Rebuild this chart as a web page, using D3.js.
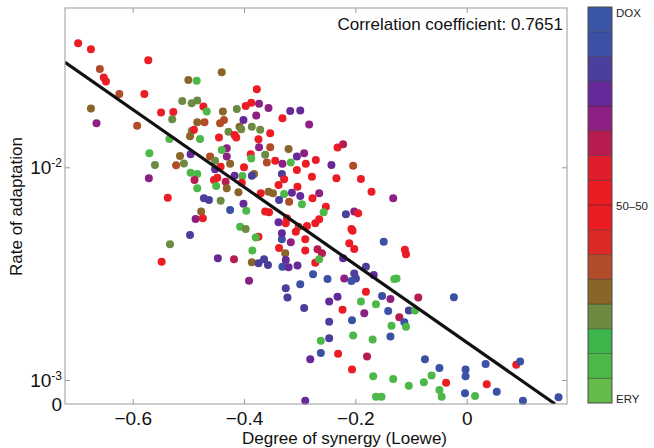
<!DOCTYPE html>
<html><head><meta charset="utf-8">
<script src="https://cdn.jsdelivr.net/npm/d3@7"></script>
<style>
body{margin:0;background:#fff}
svg{display:block}
text{font-family:"Liberation Sans",Arial,Helvetica,sans-serif}
</style>
</head><body>
<svg id="c" width="654" height="448"></svg>
<script>
// ---- data (degree of synergy, rate of adaptation, colour index on ERY→DOX bar) ----
const synergy = [
-0.698,-0.675,-0.572,-0.659,-0.652,-0.648,-0.440,-0.500,-0.485,-0.624,
-0.579,-0.675,-0.665,-0.592,-0.511,-0.494,-0.484,-0.473,-0.467,-0.549,
-0.527,-0.529,-0.438,-0.436,-0.443,-0.484,-0.471,-0.494,-0.490,-0.497,
-0.479,-0.534,-0.445,-0.428,-0.570,-0.560,-0.571,-0.515,-0.496,-0.522,
-0.508,-0.461,-0.496,-0.484,-0.489,-0.484,-0.431,-0.431,-0.440,-0.452,
-0.452,-0.442,-0.454,-0.448,-0.433,-0.450,-0.431,-0.537,-0.472,-0.463,
-0.442,-0.425,-0.477,-0.487,-0.474,
-0.377,-0.413,-0.397,-0.387,-0.373,-0.356,-0.378,-0.401,-0.331,-0.317,
-0.299,-0.283,-0.408,-0.405,-0.386,-0.371,-0.417,-0.414,-0.374,-0.353,
-0.373,-0.353,-0.320,-0.305,-0.292,-0.271,-0.388,-0.387,-0.362,-0.359,
-0.344,-0.331,-0.316,-0.289,-0.243,-0.204,-0.232,-0.222,-0.278,-0.234,
-0.190,-0.171,-0.132,-0.332,-0.305,-0.400,-0.417,-0.403,-0.382,-0.386,
-0.328,-0.338,-0.304,-0.314,-0.356,-0.348,-0.370,-0.328,-0.299,-0.277,
-0.265,-0.337,-0.319,-0.296,-0.410,-0.401,-0.396,-0.362,-0.355,-0.253,
-0.257,-0.217,-0.202,-0.195,-0.338,-0.323,-0.325,-0.265,-0.272,-0.287,
-0.407,-0.397,-0.302,-0.207,-0.404,-0.425,
-0.374,-0.379,-0.385,-0.386,-0.418,-0.391,-0.374,-0.364,-0.357,-0.332,
-0.332,-0.316,-0.307,-0.290,-0.337,-0.326,-0.290,-0.268,-0.260,-0.272,
-0.265,-0.325,-0.331,-0.320,-0.304,-0.276,-0.250,-0.299,-0.325,-0.322,
-0.292,-0.247,-0.232,-0.223,-0.247,-0.247,-0.262,-0.262,-0.231,-0.281,
-0.290,-0.206,-0.204,-0.206,-0.184,-0.181,-0.190,-0.163,-0.152,-0.137,
-0.141,-0.135,-0.137,-0.169,-0.179,-0.168,-0.132,-0.163,-0.153,-0.205,
-0.211,-0.202,-0.149,-0.222,-0.181,-0.167,-0.202,-0.199,-0.207,-0.220,
-0.130,-0.111,-0.109,-0.126,-0.087,-0.023,-0.104,-0.093,-0.121,-0.112,
-0.109,-0.075,-0.049,-0.063,-0.077,-0.104,-0.037,-0.049,-0.045,-0.002,
-0.002,0.034,0.036,-0.003,0.015,0.054,0.089,0.096,0.101,0.165,
-0.497,-0.533,-0.548,-0.447
];
const rate = [
0.0383,0.0359,0.0319,0.0290,0.0264,0.0253,0.0280,0.0257,0.0255,0.0221,
0.0221,0.0189,0.0161,0.0157,0.0205,0.0200,0.0206,0.0193,0.0183,0.0181,
0.0182,0.0168,0.0183,0.0167,0.0161,0.0163,0.0163,0.0148,0.0150,0.0140,
0.0136,0.0136,0.0138,0.0147,0.01165,0.01026,0.00888,0.0113,0.01153,0.01023,
0.01041,0.01123,0.00943,0.0093,0.00872,0.00797,0.0123,0.01123,0.01207,0.01072,
0.00979,0.01007,0.00872,0.00893,0.00856,0.00817,0.00797,0.0072,0.00715,0.00702,
0.00697,0.0063,0.00619,0.00572,0.00576,
0.0233,0.0188,0.0194,0.0201,0.0199,0.0190,0.0175,0.0167,0.0170,0.0184,
0.0185,0.0159,0.0155,0.0151,0.0155,0.0150,0.0142,0.0138,0.01355,0.01446,
0.01243,0.01243,0.0122,0.01123,0.01165,0.01083,0.01153,0.0110,0.01144,0.01052,
0.01072,0.01038,0.01052,0.01038,0.01026,0.01018,0.01238,0.01284,0.00903,0.00888,
0.00881,0.00768,0.00715,0.0093,0.00971,0.0100,0.00913,0.0091,0.0093,0.00913,
0.00878,0.00826,0.00811,0.0076,0.00768,0.00755,0.00755,0.00749,0.00733,0.00715,
0.00755,0.00702,0.00689,0.0067,0.00763,0.00673,0.00624,0.00619,0.00615,0.00653,
0.00615,0.00601,0.00619,0.00608,0.00551,0.00576,0.00545,0.0057,0.00545,0.0053,
0.00526,0.00513,0.00526,0.00513,0.00846,0.01038,
0.00472,0.00467,0.00406,0.00358,0.0037,0.00293,0.00354,0.0037,0.00347,0.00459,
0.0049,0.00444,0.00498,0.00459,0.00417,0.00394,0.00406,0.00412,0.00394,0.00356,
0.0037,0.00367,0.00341,0.00339,0.00345,0.00314,0.00298,0.00282,0.0027,0.00244,
0.00218,0.00234,0.00246,0.00214,0.00188,0.00157,0.00153,0.00134,0.00133,0.00125,
0.000798,0.00191,0.00162,0.00112,0.00206,0.0026,0.00234,0.00227,0.00248,0.0024,
0.00211,0.0018,0.0016,0.00155,0.00129,0.00104,0.00101,0.000835,0.000835,0.00503,
0.0044,0.00413,0.00447,0.00374,0.00341,0.00312,0.00317,0.0030,0.00292,0.0030,
0.00298,0.00409,0.0039,0.0030,0.00244,0.00245,0.00212,0.00212,0.00197,0.00187,
0.00178,0.00125,0.00114,0.00105,0.000975,0.00094,0.000971,0.000897,0.000835,0.00112,
0.00104,0.00119,0.000955,0.000866,0.000841,0.000881,0.00118,0.00122,0.000798,0.000829,
0.00481,0.00435,0.0036,0.00374
];
const mix = [
7,7,7,5,7,7,4,4,1,5,
7,4,11,5,3,3,3,7,1,7,
7,3,4,5,5,4,5,3,7,4,
1,1,7,3,1,3,11,4,12,5,
3,5,1,1,10,1,11,11,1,3,
12,7,7,7,10,1,4,7,13,13,
3,14,4,11,7,
7,3,7,7,11,11,11,12,7,12,
12,11,4,3,3,3,7,7,7,7,
11,5,4,12,11,7,7,1,3,5,
7,11,1,7,12,5,7,10,7,7,
7,7,11,13,7,7,12,1,4,13,
7,7,7,12,4,4,7,1,12,7,
11,13,5,1,4,12,1,7,7,7,
1,13,11,7,12,7,7,7,7,7,
1,3,5,7,7,4,
7,1,1,4,10,11,13,13,13,14,
12,11,7,7,7,4,7,10,10,7,
1,12,14,12,12,14,14,14,13,13,
13,12,12,7,13,13,1,14,7,12,
12,14,1,7,11,7,1,1,14,11,
14,1,14,1,10,1,1,1,1,7,
7,7,14,12,13,12,13,13,14,11,
1,7,7,1,10,14,13,1,10,14,
1,14,14,1,1,1,7,1,1,14,
14,14,7,14,1,14,7,14,14,14,
13,3,7,12
];
// colour bar, bottom (ERY) to top (DOX)
const colorbarColors = ["#65bb48","#4cb848","#3eb54a","#6d8a42","#8a6529","#b24b28","#dd2a28","#eb1c24",
                        "#ec1c24","#e01e2b","#b81b4e","#8c2083","#65299a","#4a3f9c","#3b51a5","#3a57a7"];
const colorbarLabels = ["ERY","50\u201350","DOX"];
const colorbarTickValues = [0.16, 7.96, 15.76];
const xTicks = [-0.6,-0.4,-0.2,0];
const yTicks = [0.000771, 0.001, 0.01];
const yTickLabels = ["0","10|-3","10|-2"];
const xDomain = [-0.7216, 0.1802];
const yDomain = [0.000771, 0.0561];
const fitSlope = -1.825, fitIntercept = -2.823;   // log10(rate) = intercept + slope * synergy
const corrLabel = "Correlation coefficient: 0.7651";
const xTitle = "Degree of synergy (Loewe)";
const yTitle = "Rate of adaptation";

// ---- layout ----
const L = 65, R = 567, T = 8, B = 404;
const svg = d3.select("#c");
const x = d3.scaleLinear().domain(xDomain).range([L, R]);
const y = d3.scaleLog().domain(yDomain).range([B, T]);
const axisGrey = "#9a9a9a";

svg.append("defs").append("clipPath").attr("id","clip")
  .append("rect").attr("x",L).attr("y",T).attr("width",R-L).attr("height",B-T);

// points
svg.append("g").selectAll("circle").data(d3.range(synergy.length)).join("circle")
  .attr("cx", i => x(synergy[i]))
  .attr("cy", i => y(rate[i]))
  .attr("r", 4)
  .attr("fill", i => colorbarColors[mix[i]]);

// fit line
const xEnd = (Math.log10(yDomain[0]) - fitIntercept) / fitSlope;
const fitPts = [xDomain[0], xEnd].map(v => [v, Math.pow(10, fitIntercept + fitSlope * v)]);
svg.append("path")
  .attr("clip-path","url(#clip)")
  .attr("d", d3.line().x(d => x(d[0])).y(d => y(d[1]))(fitPts))
  .attr("stroke","#111").attr("stroke-width",3.2).attr("fill","none");

// frame
svg.append("rect").attr("x",L).attr("y",T).attr("width",R-L).attr("height",B-T)
  .attr("fill","none").attr("stroke",axisGrey).attr("stroke-width",1);

function styleAxis(g){
  g.select(".domain").remove();
  g.selectAll(".tick line").attr("stroke",axisGrey);
  g.attr("font-family",'"Liberation Sans",Arial,sans-serif').attr("font-size",19);
  g.selectAll(".tick text").attr("fill","#111");
}
svg.append("g").attr("transform",`translate(0,${B})`)
  .call(d3.axisBottom(x).tickValues(xTicks).tickSize(-5).tickPadding(8).tickFormat(d3.format(".1f")))
  .call(styleAxis)
  .selectAll(".tick text").text(d => d === 0 ? "0" : d3.format(".1f")(d));
svg.append("g").attr("transform",`translate(0,${T})`)
  .call(d3.axisTop(x).tickValues(xTicks).tickSize(-5).tickFormat(""))
  .call(styleAxis);
const ly = svg.append("g").attr("transform",`translate(${L},0)`)
  .call(d3.axisLeft(y).tickValues(yTicks).tickSize(-5).tickPadding(3).tickFormat(""))
  .call(styleAxis);
ly.selectAll(".tick").each(function(d, i){
  const t = d3.select(this).select("text").text(null).attr("dy","0.32em");
  const parts = yTickLabels[i].split("|");
  t.append("tspan").text(parts[0]);
  if (parts[1]) t.append("tspan").attr("font-size",12).attr("dy","-0.55em").text(parts[1]);
});
ly.selectAll(".tick line").filter((d,i) => i === 0).remove();
svg.append("g").attr("transform",`translate(${R},0)`)
  .call(d3.axisRight(y).tickValues(yTicks.slice(1)).tickSize(-5).tickFormat(""))
  .call(styleAxis);

// titles
svg.append("text").attr("x",344.5).attr("y",444).attr("text-anchor","middle")
  .attr("font-size",17).attr("fill","#111").text(xTitle);
svg.append("text").attr("transform","translate(22,206.5) rotate(-90)").attr("text-anchor","middle")
  .attr("font-size",17).attr("fill","#111").text(yTitle);
svg.append("text").attr("x",563).attr("y",30).attr("text-anchor","end")
  .attr("font-size",17).attr("fill","#111").text(corrLabel);

// colour bar
const cb = d3.scaleLinear().domain([0, colorbarColors.length]).range([403, 7]);
const cbx = 588, cbw = 24;
svg.append("g").selectAll("rect").data(colorbarColors).join("rect")
  .attr("x", cbx).attr("y", (c,i) => cb(i+1)).attr("width", cbw)
  .attr("height", (c,i) => cb(i) - cb(i+1))
  .attr("fill", c => c).attr("stroke","rgba(40,40,40,0.45)").attr("stroke-width",0.8);
svg.append("rect").attr("x",cbx).attr("y",cb(colorbarColors.length)).attr("width",cbw)
  .attr("height", cb(0)-cb(colorbarColors.length)).attr("fill","none")
  .attr("stroke","#555").attr("stroke-width",0.8);
svg.append("g").selectAll("text").data(colorbarLabels).join("text")
  .attr("x", cbx + cbw + 4).attr("y", (d,i) => cb(colorbarTickValues[i]))
  .attr("dy","0.35em").attr("font-size",11.5).attr("fill","#222").text(d => d);
</script>
</body></html>
